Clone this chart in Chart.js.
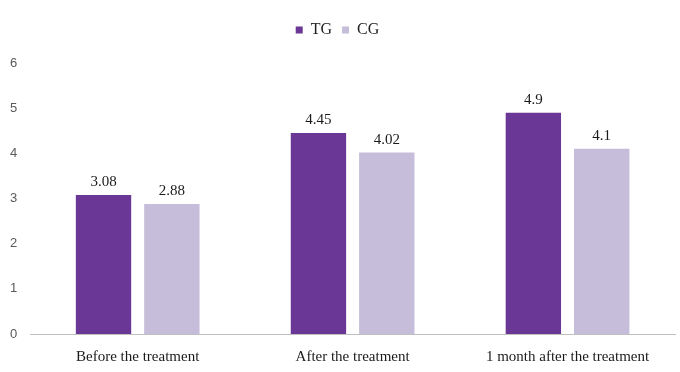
<!DOCTYPE html>
<html>
<head>
<meta charset="utf-8">
<script src="https://cdn.jsdelivr.net/npm/chart.js@4.4.0/dist/chart.umd.min.js"></script>
<style>
  html, body { margin: 0; padding: 0; background: #fff; }
  .wrap { width: 680px; height: 372px; }
</style>
</head>
<body>
<div class="wrap"><canvas id="myChart" width="680" height="372"></canvas></div>
<script>
const categories = ['Before the treatment', 'After the treatment', '1 month after the treatment'];
const tgValues = [3.08, 4.45, 4.9];
const cgValues = [2.88, 4.02, 4.1];
const tgLabels = ['3.08', '4.45', '4.9'];
const cgLabels = ['2.88', '4.02', '4.1'];
const yTicks = [0, 1, 2, 3, 4, 5, 6];

const serif = '"Liberation Serif", "Times New Roman", serif';

// draw the numbers above the bars
const valueLabels = {
    id: 'valueLabels',
    afterDatasetsDraw(chart) {
        const ctx = chart.ctx;
        ctx.save();
        ctx.font = '15px ' + serif;
        ctx.fillStyle = '#1a1a1a';
        ctx.textAlign = 'center';
        ctx.textBaseline = 'bottom';
        const texts = [tgLabels, cgLabels];
        chart.data.datasets.forEach((ds, i) => {
            chart.getDatasetMeta(i).data.forEach((bar, j) => {
                ctx.fillText(texts[i][j], bar.x, bar.y - 5);
            });
        });
        ctx.restore();
    }
};

// a bit more room under the legend
const legendSpace = {
    id: 'legendSpace',
    beforeInit(chart) {
        const fit = chart.legend.fit;
        chart.legend.fit = function () {
            fit.bind(chart.legend)();
            this.height += 15;
        };
    }
};

const ctx = document.getElementById('myChart').getContext('2d');
const myChart = new Chart(ctx, {
    type: 'bar',
    data: {
        labels: categories,
        datasets: [{
            label: 'TG',
            data: tgValues,
            backgroundColor: '#6b3797',
            categoryPercentage: 0.636,
            barPercentage: 0.81
        }, {
            label: 'CG',
            data: cgValues,
            backgroundColor: '#c5bdd9',
            categoryPercentage: 0.636,
            barPercentage: 0.81
        }]
    },
    options: {
        responsive: false,
        animation: false,
        layout: { padding: { left: 0, right: 5, top: 12, bottom: 7 } },
        plugins: {
            legend: {
                position: 'top',
                labels: {
                    boxWidth: 7,
                    boxHeight: 7,
                    padding: 10,
                    color: '#222',
                    font: { family: serif, size: 16 }
                }
            },
            tooltip: { enabled: false }
        },
        scales: {
            x: {
                grid: { display: false, drawTicks: false },
                border: { color: '#bfbfbf', width: 1 },
                afterFit(axis) { axis.height -= 15; },
                ticks: {
                    color: '#1a1a1a',
                    padding: 14,
                    font: { family: serif, size: 15 }
                }
            },
            y: {
                min: yTicks[0],
                max: yTicks[yTicks.length - 1],
                grid: { display: false, drawTicks: false },
                border: { display: false },
                afterFit(axis) { axis.width -= 3; },
                afterBuildTicks(axis) {
                    axis.ticks = yTicks.map(v => ({ value: v }));
                },
                ticks: {
                    color: '#595959',
                    padding: 13,
                    font: { family: '"Liberation Sans", sans-serif', size: 13 }
                }
            }
        }
    },
    plugins: [valueLabels, legendSpace]
});
</script>
</body>
</html>
